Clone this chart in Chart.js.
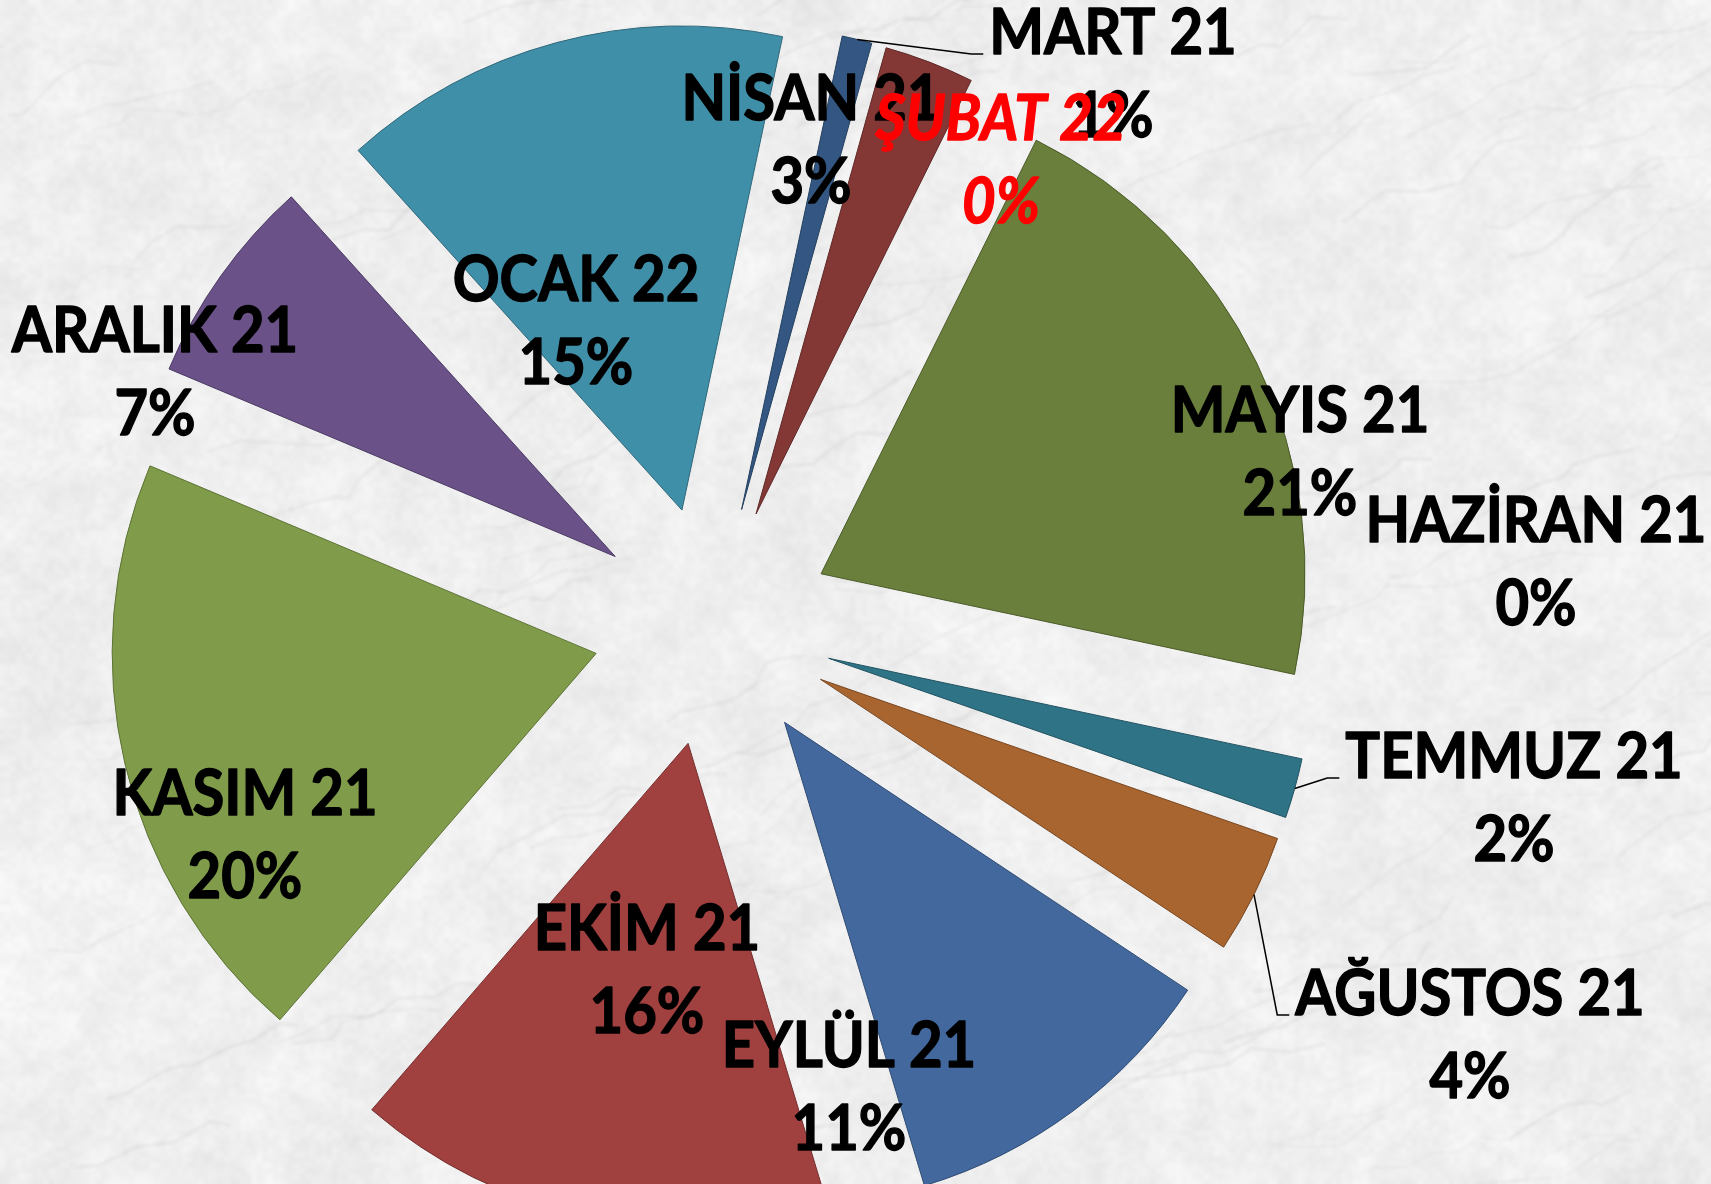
<!DOCTYPE html>
<html lang="tr">
<head>
<meta charset="utf-8">
<title>Aylık Dağılım</title>
<script src="https://cdn.jsdelivr.net/npm/chart.js@4.4.1/dist/chart.umd.min.js"></script>
<style>
  html, body { margin: 0; padding: 0; background: #f2f2f2; overflow: hidden; }
  #wrap { width: 1711px; height: 1184px; position: relative; }
</style>
</head>
<body>
<div id="wrap"><canvas id="aylar"></canvas></div>
<script>
const months = ['MART 21', 'NİSAN 21', 'MAYIS 21', 'HAZİRAN 21', 'TEMMUZ 21', 'AĞUSTOS 21',
                'EYLÜL 21', 'EKİM 21', 'KASIM 21', 'ARALIK 21', 'OCAK 22', 'ŞUBAT 22'];
const shares = [1, 3, 21, 0, 2, 4, 11, 16, 20, 7, 15, 0];

const sliceColors = ['#335782', '#843836', '#6a7f3c', '#5a4676', '#2f7386', '#a8652f',
                     '#42689d', '#a0403f', '#809c4a', '#6a5289', '#408fa8', '#e07a2c'];
const edgeColors  = ['#24405f', '#5e2826', '#4c5c2a', '#40324f', '#215362', '#7a4822',
                     '#304c73', '#752e2e', '#5e7436', '#4c3b63', '#2e687a', '#a35820'];

// where each label sits: centre of its first line, on the baseline, measured from the pie centre
const labelSpots = [[400, -572], [98, -506], [587, -194], [823, -84], [801, 152], [757, 389],
                    [136, 441], [-66, 324], [-468, 189], [-558, -274], [-137, -325], [288, -486]];
const withLeader = [0, 4, 5];
const redLabel = [11];

const EXPLODE = 120;
const FONT_PX = 58;
const LINE_GAP = 83;

// small seeded generator for the stone texture behind the chart
function mulberry32(a) {
  return function () {
    a |= 0; a = a + 0x6D2B79F5 | 0;
    let t = Math.imul(a ^ a >>> 15, 1 | a);
    t = t + Math.imul(t ^ t >>> 7, 61 | t) ^ t;
    return ((t ^ t >>> 14) >>> 0) / 4294967296;
  };
}

function marble(w, h) {
  const c = document.createElement('canvas');
  c.width = w; c.height = h;
  const g = c.getContext('2d');
  g.fillStyle = '#f5f5f5';
  g.fillRect(0, 0, w, h);
  const rnd = mulberry32(11);
  [[14, 0.3], [40, 0.3], [110, 0.28], [320, 0.2]].forEach(([cols, alpha]) => {
    const rows = Math.max(2, Math.round(cols * h / w));
    const s = document.createElement('canvas');
    s.width = cols; s.height = rows;
    const sg = s.getContext('2d');
    const img = sg.createImageData(cols, rows);
    for (let i = 0; i < cols * rows; i++) {
      const v = 218 + rnd() * 37;
      img.data[i * 4] = v; img.data[i * 4 + 1] = v; img.data[i * 4 + 2] = v;
      img.data[i * 4 + 3] = 255;
    }
    sg.putImageData(img, 0, 0);
    g.globalAlpha = alpha;
    g.imageSmoothingEnabled = true;
    g.imageSmoothingQuality = 'high';
    g.drawImage(s, 0, 0, w, h);
  });
  // faint grey veins running up to the right
  g.globalAlpha = 0.16;
  g.strokeStyle = '#9a9a9a';
  g.filter = 'blur(1.5px)';
  for (let k = 0; k < 160; k++) {
    let x = rnd() * w, y = rnd() * h;
    g.lineWidth = 0.6 + rnd() * 1.6;
    g.beginPath();
    g.moveTo(x, y);
    const steps = 4 + Math.floor(rnd() * 6);
    for (let s = 0; s < steps; s++) {
      x += 10 + rnd() * 30;
      y -= rnd() * 26 - 4;
      g.lineTo(x, y);
    }
    g.stroke();
  }
  g.filter = 'none';
  g.globalAlpha = 1;
  return c;
}

const stoneBackground = {
  id: 'stoneBackground',
  beforeDraw(chart) {
    if (!chart.$stone) chart.$stone = marble(chart.width, chart.height);
    chart.ctx.drawImage(chart.$stone, 0, 0);
  }
};

// pull every slice out from the centre along its own middle angle
const explodedSlices = {
  id: 'explodedSlices',
  beforeDatasetDraw(chart, args) {
    const ctx = chart.ctx;
    args.meta.data.forEach(arc => {
      const mid = (arc.startAngle + arc.endAngle) / 2;
      ctx.save();
      ctx.translate(Math.cos(mid) * EXPLODE, Math.sin(mid) * EXPLODE);
      arc.draw(ctx);
      ctx.restore();
    });
    return false;
  }
};

// slightly tall and heavy lettering
function heavyText(ctx, text, x, y) {
  ctx.save();
  ctx.translate(x, y);
  ctx.scale(1, 1.08);
  ctx.fillText(text, 0, 0);
  ctx.strokeText(text, 0, 0);
  ctx.restore();
}

const sliceLabels = {
  id: 'sliceLabels',
  afterDraw(chart) {
    const ctx = chart.ctx;
    const arcs = chart.getDatasetMeta(0).data;
    const cx = arcs[0].x, cy = arcs[0].y;
    ctx.save();
    ctx.textAlign = 'center';
    ctx.textBaseline = 'alphabetic';
    ctx.lineJoin = 'round';
    arcs.forEach((arc, i) => {
      const x = cx + labelSpots[i][0];
      const y = cy + labelSpots[i][1];
      const red = redLabel.includes(i);
      const ink = red ? '#ff0000' : '#000000';
      ctx.font = (red ? 'italic ' : '') + 'bold ' + FONT_PX + 'px Lato, "Open Sans", sans-serif';
      if (withLeader.includes(i)) {
        const half = ctx.measureText(months[i]).width / 2;
        const mid = (arc.startAngle + arc.endAngle) / 2;
        const r = arc.outerRadius + EXPLODE;
        ctx.beginPath();
        ctx.moveTo(cx + Math.cos(mid) * r, cy + Math.sin(mid) * r);
        ctx.lineTo(x - half - 18, y);
        ctx.lineTo(x - half - 6, y);
        ctx.strokeStyle = '#000';
        ctx.lineWidth = 1.5;
        ctx.stroke();
      }
      ctx.fillStyle = ink;
      ctx.strokeStyle = ink;
      ctx.lineWidth = 1.3;
      heavyText(ctx, months[i], x, y);
      heavyText(ctx, shares[i] + '%', x, y + LINE_GAP);
    });
    ctx.restore();
  }
};

const pieChart = new Chart(document.getElementById('aylar'), {
  type: 'pie',
  data: {
    labels: months,
    datasets: [{
      data: shares,
      backgroundColor: sliceColors,
      borderColor: edgeColors,
      borderWidth: 1,
      hoverOffset: 0
    }]
  },
  options: {
    responsive: true,
    maintainAspectRatio: false,
    animation: false,
    rotation: 12,
    radius: 484,
    layout: { padding: { left: 0, right: 285, top: 68, bottom: 0 } },
    events: [],
    plugins: {
      legend: { display: false },
      tooltip: { enabled: false }
    }
  },
  plugins: [stoneBackground, explodedSlices, sliceLabels]
});
</script>
</body>
</html>
